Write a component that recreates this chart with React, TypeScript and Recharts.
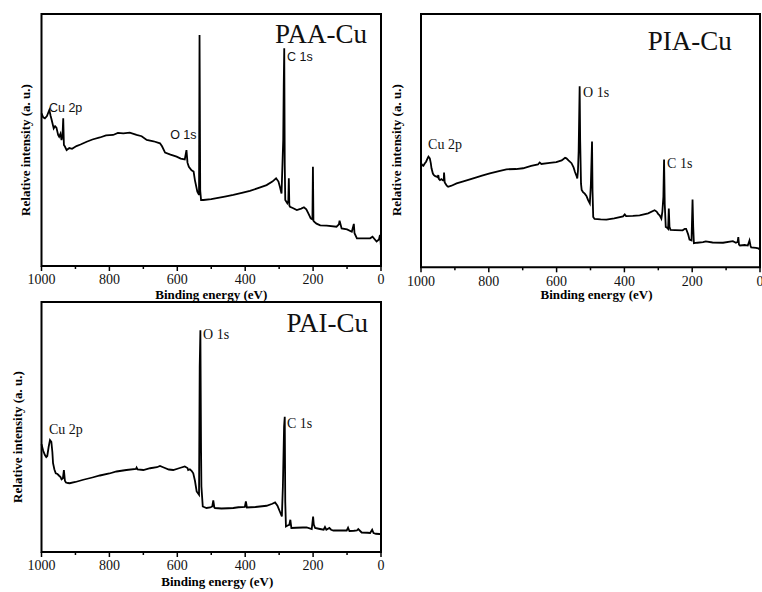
import { LineChart, Line, XAxis, YAxis, ReferenceArea, ReferenceDot, Label } from 'recharts'

// XPS survey spectra, binding energy (eV) vs relative intensity (0-100 of frame height)
const paaEnergy = [1000, 995, 990, 984, 977, 973, 970, 964, 960, 956, 951, 948, 944, 941, 938, 936, 934, 931, 926, 918, 910, 897, 885, 867, 850, 828, 810, 789, 775, 759, 740, 720, 705, 690, 670, 651, 645, 636, 620, 602, 590, 578, 573, 570, 566, 558, 552, 548, 541, 536, 534.5, 532.5, 530, 523, 500, 484, 460, 435, 410, 386, 360, 337, 320, 309, 302, 298, 293, 290, 288, 286.5, 285, 283.5, 282, 276, 273, 271.5, 270, 268, 260, 248, 235, 227, 220, 214, 207, 202, 200.5, 199, 197, 190, 179, 160, 131, 124, 122, 116, 100, 86, 80, 78, 71, 50, 32, 25, 13, 6, 3, 0]
const paaIntensity = [60.6, 59, 58.6, 59.5, 61.9, 59.5, 57.9, 54.6, 55.5, 54.9, 52, 51.3, 52.5, 50, 52, 58.6, 48, 47.4, 46, 46.8, 46.5, 47.6, 48.2, 49.3, 50.2, 51, 51.8, 52, 52.8, 52.6, 52.9, 52, 51.5, 50, 49.5, 48.7, 47.5, 45, 44.2, 43.4, 42.6, 42.3, 46, 41, 39.4, 38, 37.5, 34, 29.5, 28.2, 91.7, 30, 26.2, 26.2, 26.5, 26.9, 27.5, 28.2, 29, 29.8, 31, 32.1, 33.5, 34.8, 33.5, 31.5, 28.8, 41.4, 50, 71.4, 86.4, 40, 26.2, 24.9, 26, 34.8, 24, 23.5, 23, 22.2, 22.8, 23.3, 22.5, 20.9, 18.9, 18.5, 39.4, 18, 17.6, 16.8, 16.1, 16, 15.6, 16.5, 18, 14.9, 14.5, 13.6, 16.7, 13, 11, 11, 11, 11.6, 9.7, 10.5, 12.3, 7.7]

const piaEnergy = [1000, 996, 993, 989, 985, 980, 978, 974, 971, 969, 965, 962, 958, 954, 951, 949, 947, 944, 940, 936, 933, 932, 930, 928, 924, 920, 910, 895, 875, 846, 820, 797, 770, 748, 720, 699, 675, 655, 650, 645, 620, 601, 585, 575, 571, 565, 556, 550, 546, 541, 539, 537, 535, 532, 530.5, 528, 526, 522, 517, 512, 507, 502, 499, 495.5, 494, 492, 488, 470, 453, 430, 404, 399, 395, 375, 355, 330, 311, 305, 300, 296, 291, 288, 285, 283, 281, 278, 274, 271, 269, 267, 264, 250, 228, 222, 218, 212, 208, 202, 199, 197, 195, 185, 168, 160, 140, 109, 80, 71, 66, 64, 62, 59, 45, 36, 31, 28, 26, 12, 5, 0]
const piaIntensity = [41.1, 40.3, 40.1, 41, 41.7, 43.2, 43.7, 43, 41, 39.1, 37, 36.4, 36, 35.8, 35.5, 36.4, 34.8, 34.4, 34.8, 34.4, 34.2, 37.4, 33.5, 33.1, 32.2, 31.8, 32.2, 33.1, 33.9, 35.1, 36.2, 37.1, 38, 38.7, 38.8, 39.1, 40, 40.6, 41.4, 40.8, 41.2, 41.5, 42.2, 43.2, 43, 42.2, 41.1, 39.5, 37.7, 36, 35.1, 38, 45.7, 71.5, 50.3, 33, 30.5, 29.7, 29.1, 28.2, 26.5, 25.2, 32.5, 49.7, 30, 19.9, 19.1, 18.9, 18.8, 19.3, 20.1, 20.9, 20.2, 20.3, 20.5, 21.3, 22.5, 22, 21, 20.5, 19.2, 22, 27.8, 42.6, 25, 15.9, 15.6, 15.2, 23.2, 16, 14.8, 14.7, 14.6, 15.2, 15.2, 13, 10.9, 10.6, 26.8, 16, 9.5, 9.7, 9.9, 10.2, 9.8, 9.7, 10.3, 9.7, 10, 11.9, 9, 8.6, 8.8, 8.6, 10.6, 8.5, 7.9, 7.7, 7.5, 6.9]

const paiEnergy = [1000, 995, 990, 986, 983, 979, 975, 971, 968, 966, 962, 958, 953, 948, 944, 941, 937, 934, 931, 928, 922, 917, 900, 877, 850, 828, 800, 779, 750, 722, 720, 717, 700, 680, 660, 651, 640, 625, 612, 595, 578, 570, 568, 563, 558, 553, 548, 543, 536, 534, 532, 530, 529, 525, 514, 503, 497, 494, 491, 489, 470, 450, 435, 420, 401, 398, 395, 370, 337, 320, 312, 305, 298, 292, 289, 285.5, 283.5, 282, 280, 275, 270, 267, 264, 250, 230, 219, 204, 200, 198, 194, 180, 169, 165, 161, 152, 147, 140, 120, 101, 97, 93, 80, 71, 67, 57, 40, 32, 26, 22, 15, 5, 0]
const paiIntensity = [43.1, 40.5, 38.8, 38, 38.4, 42, 44.8, 44.1, 40, 35.5, 33, 31.5, 31.2, 30.5, 30, 29.1, 29.5, 32.8, 28.5, 27.8, 27.6, 27.5, 28, 28.9, 29.8, 30.6, 31.4, 32.2, 32.8, 33.2, 33.8, 33, 32.8, 33.5, 33.9, 34.4, 33.8, 33, 32.8, 33.5, 34.2, 33.6, 32.8, 33.1, 32.5, 31.5, 28.5, 24.2, 22.9, 74.1, 88.7, 40, 26.2, 18.2, 17.6, 17.8, 18.2, 20.6, 17.8, 17.6, 17.4, 17.5, 17.6, 17.9, 18, 20.2, 17.8, 18, 18.5, 19.3, 19.8, 18.5, 16.2, 14.2, 26.2, 50.1, 54.1, 20, 10.2, 10.6, 10.9, 12.9, 9.6, 9.7, 9.8, 9.8, 9.2, 14.2, 11, 9.6, 9.2, 8.9, 10, 8.9, 9.6, 8.9, 8.6, 8.6, 8.6, 9.7, 8.4, 8.5, 8.6, 9.2, 7.8, 7.7, 7.6, 8.9, 7.6, 7.3, 7.2, 7]

// every 100 eV gets a tick, every 200 eV a label
const energyTicks = [1000, 900, 800, 700, 600, 500, 400, 300, 200, 100, 0]

type Note = { text: string; ev: number; val: number }

interface PanelProps {
  energy: number[]
  intensity: number[]
  title: string
  titleAt: [number, number]
  notes: Note[]
  noteFont: string
  noteSize: number
  left: number
  top: number
  width: number
  height: number
  margin: { top: number; right: number; bottom: number; left: number }
  axisHeight: number
  yTitleDx: number
  yTitleShift: number
  xTitleShift: number
  xTitleDy: number
}

const serif = 'Liberation Serif, Times New Roman, serif'
const TICK_SIZE = 5
const TICK_MARGIN = 3.5

// draws the tick mark itself (short for minor ticks) plus the label for majors
function EnergyTick(props: any) {
  const { x, y, payload } = props
  const axisY = y - TICK_SIZE - TICK_MARGIN
  const major = payload.value % 200 === 0
  return (
    <g>
      <line x1={x} x2={x} y1={axisY} y2={axisY + (major ? 5 : 3)} stroke="#000" strokeWidth={1.5} />
      {major && (
        <text x={x} y={y} dy="0.71em" textAnchor="middle" fontFamily={serif} fontSize={14} fill="#111">
          {payload.value}
        </text>
      )}
    </g>
  )
}

function SurveyPanel(p: PanelProps) {
  const data = p.energy.map((e, i) => ({ e, v: p.intensity[i] }))

  const xTitle = ({ viewBox }: any) => (
    <text
      x={viewBox.x + viewBox.width / 2 + p.xTitleShift}
      y={viewBox.y + p.xTitleDy}
      textAnchor="middle"
      fontFamily={serif}
      fontWeight="bold"
      fontSize={13}
      fill="#000"
    >
      Binding energy (eV)
    </text>
  )

  // rotated y title, anchored at the middle of the left frame edge
  const yTitle = (s: any) => {
    const x = s.cx - p.yTitleDx
    const y = s.cy + p.yTitleShift
    return (
      <text
        x={x}
        y={y}
        transform={`rotate(-90, ${x}, ${y})`}
        textAnchor="middle"
        fontFamily={serif}
        fontWeight="bold"
        fontSize={13}
        fill="#000"
      >
        Relative intensity (a. u.)
      </text>
    )
  }

  return (
    <div style={{ position: 'absolute', left: p.left, top: p.top }}>
      <LineChart width={p.width} height={p.height} data={data} margin={p.margin}>
        <XAxis
          dataKey="e"
          type="number"
          domain={[0, 1000]}
          reversed
          ticks={energyTicks}
          interval={0}
          tickSize={TICK_SIZE}
          tickMargin={TICK_MARGIN}
          height={p.axisHeight}
          axisLine={false}
          tickLine={false}
          tick={<EnergyTick />}
        >
          <Label content={xTitle} />
        </XAxis>
        <YAxis type="number" domain={[0, 100]} hide />
        <ReferenceArea x1={1000} x2={0} y1={0} y2={100} fill="none" fillOpacity={0} stroke="#000" strokeWidth={2} />
        <Line
          type="linear"
          dataKey="v"
          stroke="#000"
          strokeWidth={1.8}
          dot={false}
          isAnimationActive={false}
        />
        <ReferenceDot x={1000} y={50} r={0} shape={yTitle} />
        <ReferenceDot
          x={p.titleAt[0]}
          y={p.titleAt[1]}
          r={0}
          shape={(s: any) => (
            <text x={s.cx} y={s.cy} textAnchor="end" fontFamily={serif} fontSize={27} fill="#111">
              {p.title}
            </text>
          )}
        />
        {p.notes.map((n) => (
          <ReferenceDot
            key={n.text}
            x={n.ev}
            y={n.val}
            r={0}
            shape={(s: any) => (
              <text x={s.cx} y={s.cy} fontFamily={p.noteFont} fontSize={p.noteSize} fill="#111">
                {n.text}
              </text>
            )}
          />
        ))}
      </LineChart>
    </div>
  )
}

export default function App() {
  return (
    <div style={{ position: 'absolute', left: 0, top: 0, width: 762, height: 592, background: '#fff' }}>
      <SurveyPanel
        energy={paaEnergy}
        intensity={paaIntensity}
        title="PAA-Cu"
        titleAt={[41, 88.3]}
        notes={[
          { text: 'Cu 2p', ev: 978, val: 61.1 },
          { text: 'O 1s', ev: 621, val: 50.4 },
          { text: 'C 1s', ev: 277, val: 81.5 }
        ]}
        noteFont="Liberation Sans, Arial, sans-serif"
        noteSize={12.5}
        left={0}
        top={0}
        width={390}
        height={302}
        margin={{ top: 14, left: 41.5, right: 9, bottom: 0 }}
        axisHeight={36}
        yTitleDx={11.5}
        yTitleShift={10}
        xTitleShift={0}
        xTitleDy={32.5}
      />
      <SurveyPanel
        energy={piaEnergy}
        intensity={piaIntensity}
        title="PIA-Cu"
        titleAt={[83, 85.8]}
        notes={[
          { text: 'Cu 2p', ev: 979, val: 46.7 },
          { text: 'O 1s', ev: 522, val: 67.2 },
          { text: 'C 1s', ev: 274, val: 39.2 }
        ]}
        noteFont={serif}
        noteSize={14}
        left={390}
        top={0}
        width={372}
        height={302}
        margin={{ top: 14, left: 31, right: 2, bottom: 0 }}
        axisHeight={34.7}
        yTitleDx={19.5}
        yTitleShift={9.5}
        xTitleShift={6}
        xTitleDy={32}
      />
      <SurveyPanel
        energy={paiEnergy}
        intensity={paiIntensity}
        title="PAI-Cu"
        titleAt={[38, 88]}
        notes={[
          { text: 'Cu 2p', ev: 978, val: 47.2 },
          { text: 'O 1s', ev: 524, val: 85.2 },
          { text: 'C 1s', ev: 277, val: 49.6 }
        ]}
        noteFont={serif}
        noteSize={14}
        left={0}
        top={290}
        width={390}
        height={302}
        margin={{ top: 12, left: 41.5, right: 9, bottom: 0 }}
        axisHeight={40}
        yTitleDx={20}
        yTitleShift={10}
        xTitleShift={6}
        xTitleDy={34}
      />
    </div>
  )
}
